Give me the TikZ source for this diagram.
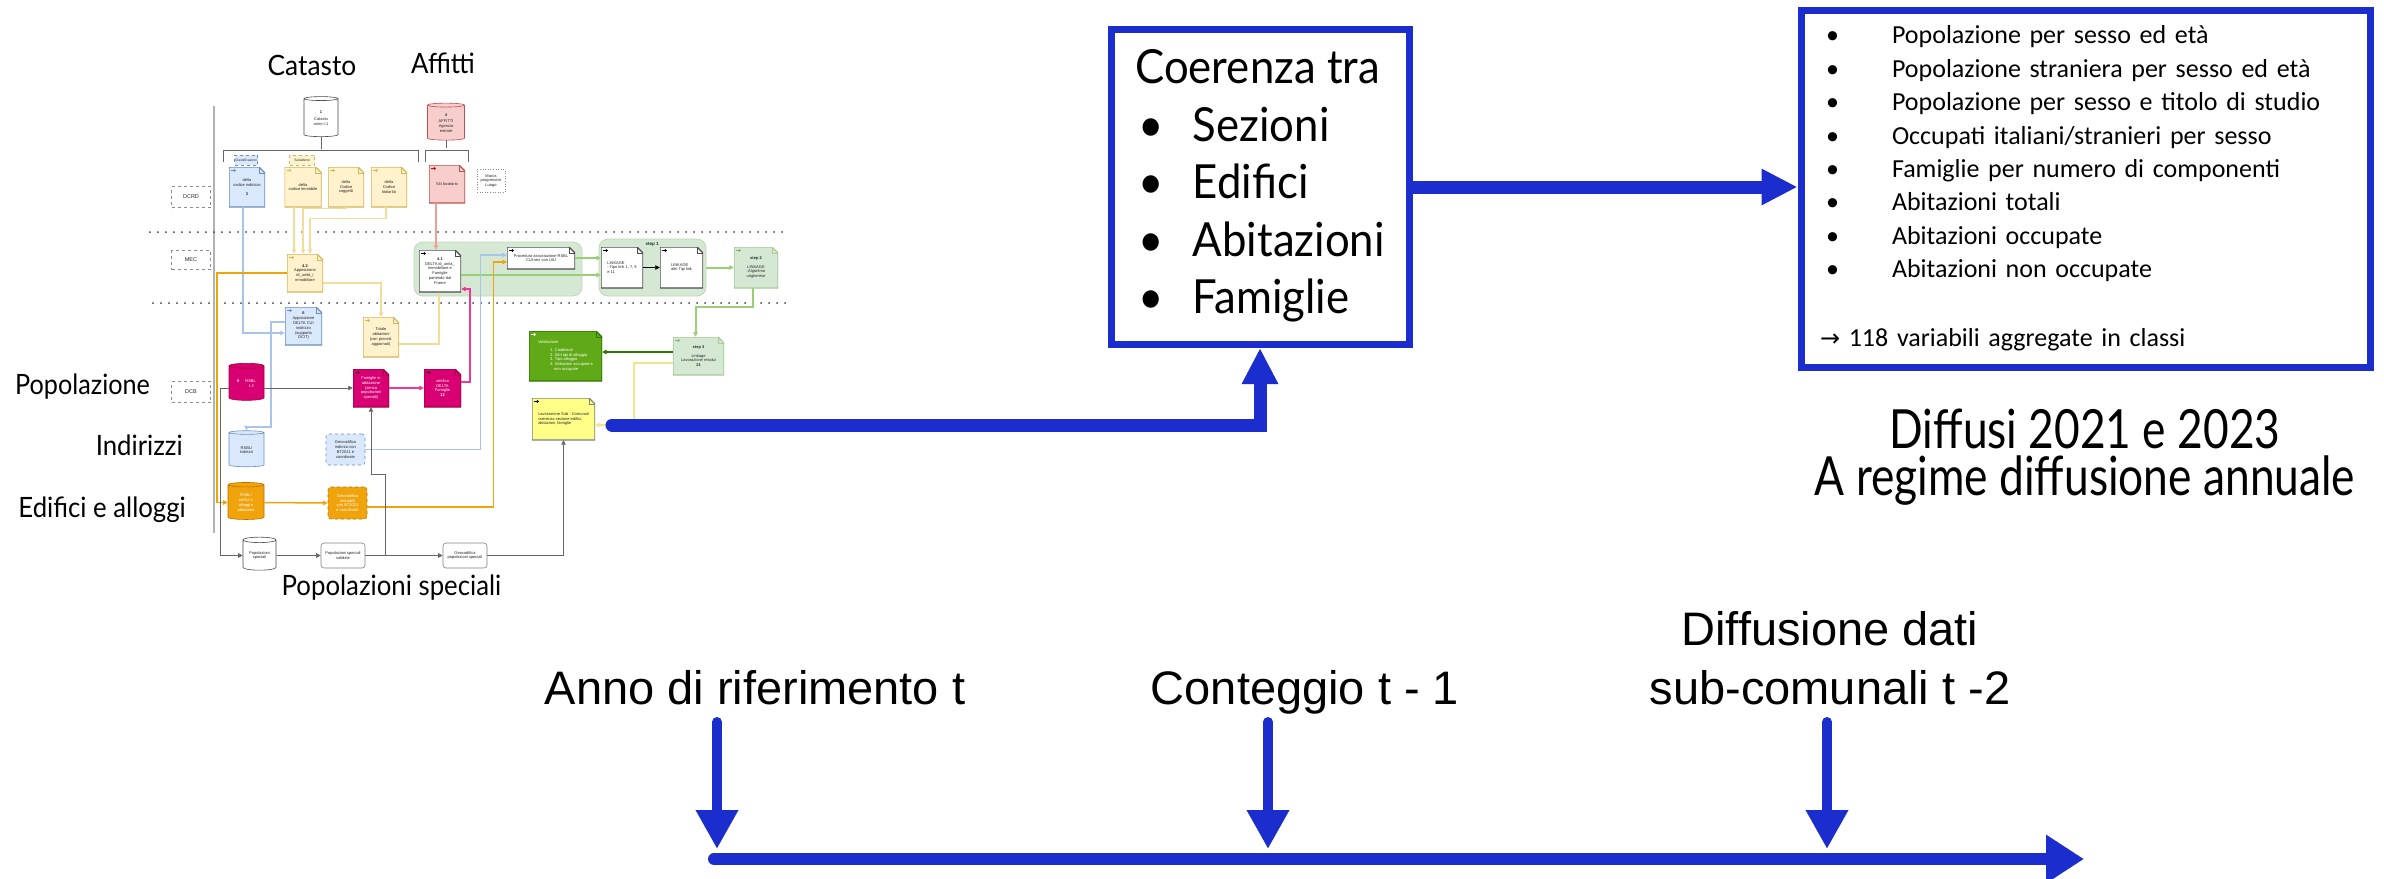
\documentclass[tikz,border=0pt]{standalone}
\usepackage{graphicx}
\usepackage{fontspec}
\setmainfont{Lato}
\newfontfamily\arialfont{Liberation Sans}
\newfontfamily\calibrifont{Carlito}
\newfontfamily\simboli{DejaVu Sans}
\usetikzlibrary{shapes.geometric,arrows.meta,calc}

\definecolor{bluISTAT}{RGB}{27,45,205}
\definecolor{azzF}{HTML}{DAE8FC}\definecolor{azzB}{HTML}{6C8EBF}\definecolor{azzL}{HTML}{A9C4EB}
\definecolor{giaF}{HTML}{FFF2CC}\definecolor{giaB}{HTML}{D6B656}\definecolor{giaL}{HTML}{F2DC9B}
\definecolor{rosF}{HTML}{F8CECC}\definecolor{rosB}{HTML}{B85450}\definecolor{rosL}{HTML}{F19C99}
\definecolor{verF}{HTML}{D5E8D4}\definecolor{verB}{HTML}{82B366}\definecolor{verL}{HTML}{97D077}
\definecolor{magF}{HTML}{D80073}\definecolor{magB}{HTML}{A50040}\definecolor{magL}{HTML}{F0389A}
\definecolor{araF}{HTML}{F0A30A}\definecolor{araB}{HTML}{BD7000}
\definecolor{vscF}{HTML}{60A917}\definecolor{vscB}{HTML}{2D7600}
\definecolor{gflF}{HTML}{FFFF88}\definecolor{gflL}{HTML}{EEE88A}

\begin{document}
\begin{tikzpicture}[x=1pt,y=-1pt,
  >={Triangle[length=4.5pt,width=4.5pt]},
  piccolo/.style={font=\arialfont\fontsize{4}{4.8}\selectfont, align=center, inner sep=0.5pt, text=black!85},
  misura/.style 2 args={minimum width=#1, minimum height=#2},
  foglio/.style n args={3}{piccolo, rectangle, path picture={
      \path[fill=#1, draw=#2, line width=1.2]
        (path picture bounding box.south west) -- (path picture bounding box.north west)
        -- ([xshift=-6pt]path picture bounding box.north east)
        -- ([yshift=-6pt]path picture bounding box.north east)
        -- (path picture bounding box.south east) -- cycle;
      \draw[#2, line width=0.6] ([xshift=-6pt]path picture bounding box.north east) |- ([yshift=-6pt]path picture bounding box.north east);
      \draw[#3, line width=1.1, -{Triangle[length=2.2pt,width=3.2pt]}] ([xshift=2pt,yshift=-3.5pt]path picture bounding box.north west) -- ++(5pt,0pt);
    }},
  db/.style 2 args={piccolo, cylinder, shape border rotate=90, aspect=0.25, fill=#1, draw=#2, line width=0.6},
  gbox/.style 2 args={piccolo, rectangle, rounded corners=3, fill=#1, draw=#2, line width=0.6},
  reparto/.style={piccolo, font=\arialfont\fontsize{5.5}{6}\selectfont, draw=black!45, dashed, line width=0.6, misura={39}{21}},
  regione/.style={rectangle, rounded corners=9, fill=verF, draw=verB!50, line width=0.8},
  puntini/.style={draw=black!75, line width=2, line cap=round, dash pattern=on 0pt off 8pt},
  ebl/.style={draw=azzL, line width=1.4}, eyl/.style={draw=giaL, line width=1.4},
  ero/.style={draw=rosL, line width=1.4}, eve/.style={draw=verL, line width=2},
  evs/.style={draw=vscB, line width=1.6}, emg/.style={draw=magL, line width=2.2},
  eor/.style={draw=araF, line width=1.5}, egr/.style={draw=black!60, line width=0.8},
  egf/.style={draw=gflL, line width=1.5},
  titolo/.style={font=\fontsize{28}{30}\selectfont, inner sep=0pt},
  riquadro/.style={rectangle, draw=bluISTAT, line width=7, fill=white, inner sep=0pt},
  bluofreccia/.style={draw=bluISTAT, line width=13, line cap=round, -{Triangle[length=36pt,width=34pt]}},
  tempo/.style={draw=bluISTAT, line width=10, line cap=round, -{Triangle[length=39pt,width=40pt]}},
  asse/.style={draw=bluISTAT, line width=12, line cap=round, -{Triangle[length=38pt,width=46pt]}},
  datum/.style={font=\arialfont\fontsize{47}{59}\selectfont, inner sep=0pt}
]
\fill[white] (0,0) rectangle (2384,878);
\useasboundingbox (0,0) rectangle (2384,878);

% schema dei flussi
\draw[black!30, line width=2] (214,106) -- (214,533);
\draw[puntini] (150,232) -- (785,232);
\draw[puntini] (153,303) -- (785,303);

\node[regione, misura={168}{54}] (reg1) at (498,269) {};
\node[regione, misura={107}{57}] (reg2) at (652.5,267.5) {};
\node[piccolo, font=\arialfont\bfseries\fontsize{4.5}{5}\selectfont] (step1) at (652,244) {step 1};

\node[db={white}{black!70}, misura={34}{40}] (cat) at (321,118) {\textbf{1}\\[3pt]Catasto\\anno t-1};
\node[db={rosF}{rosB}, misura={37}{37}] (aff) at (446,123) {\textbf{4}\\[2pt]AFFITTI\\Agenzia\\entrate};
\node[piccolo, font=\arialfont\fontsize{3.4}{4}\selectfont, fill=azzF, draw=azzB, dashed, line width=0.4, misura={23}{10}] (classi) at (246,160) {Classificazioni};
\node[piccolo, font=\arialfont\fontsize{3.4}{4}\selectfont, fill=giaF, draw=giaB, dashed, line width=0.4, misura={25}{10}] (subalt) at (302,160) {Subalterni};

\node[foglio={azzF}{azzB}{azzB}, misura={36}{40}] (dind) at (247,187) {delta\\codice indirizzo\\[4pt]\textbf{3}};
\node[foglio={giaF}{giaB}{giaB}, misura={37}{40}] (dimm) at (303,187) {delta\\codice immobile};
\node[foglio={giaF}{giaB}{giaB}, misura={36}{40}] (dsog) at (346,187) {delta\\Codice\\soggetti};
\node[foglio={giaF}{giaB}{giaB}, misura={36}{40}] (dtit) at (389,187) {delta\\Codice\\titolarità};
\node[foglio={rosF}{rosB}{red!80!black}, misura={36}{38}] (dloc) at (447,184) {Siti locatario};
\node[piccolo, draw=black!45, dotted, line width=0.6, fill=white, misura={28}{23}] (marca) at (491,181) {Marca\\progressivo\\Luogo};

\node[reparto] (dcrd) at (191,197) {DCRD};
\node[reparto, misura={39}{19}] (mec) at (191,260) {MEC};
\node[reparto] (dcb) at (191,392) {DCB};

\node[foglio={giaF}{giaB}{giaB}, misura={36}{38}] (d42) at (305,273) {\textbf{4.2}\\Apposizione\\id\_unità\_i\\mmobiliare};
\node[foglio={white}{black!70}{black}, misura={42}{42}] (d41) at (440,271) {\textbf{4.1}\\DELTA id\_unita\_\\immobiliare e\\Famiglie\\partendo dal\\Frame};
\node[foglio={white}{black!70}{black}, misura={68}{22}] (proc) at (541,258) {Procedura associazione RSBL\\CUI-sez con UIU};
\node[foglio={white}{black!70}{black}, misura={42}{41}, align=left] (lk1) at (622,267.5) {LINKAGE\\ - Tipo link 1, 7, 9\\e 11};
\node[foglio={white}{black!70}{black}, misura={43}{41}, align=left] (lk2) at (681.5,267.5) {LINKAGE\\ altri Tipi link};
\node[foglio={verF}{verB!70}{verB}, misura={44}{41}] (st2) at (756,267.5) {\textbf{step 2}\\[4pt]LINKAGE\\-Algoritmo\\ungherese};
\node[foglio={verF}{verB!70}{verB}, misura={51}{38}] (st3) at (698.5,356) {\textbf{step 3}\\[4pt]Linkage\\Lavorazione residui\\\textbf{21}};
\node[foglio={vscF}{vscB}{white}, misura={73}{50}, text=white, align=left] (val) at (565.5,356) {Validazione\\[3pt]\hspace*{12pt}1. Coabitanti\\\hspace*{12pt}2. Altri tipi di alloggio\\\hspace*{12pt}3. Tipo alloggio\\\hspace*{12pt}4. Abitazioni occupate e\\\hspace*{16pt}non occupate};
\node[foglio={gflF}{black!50}{black}, misura={63}{42}, align=left] (sub) at (563.5,419) {Lavorazione Sub - Comunali\\coerenza sezione edifici,\\abitazioni, famiglie};

\node[foglio={azzF}{azzB}{azzB}, misura={37}{38}] (d6) at (303.5,326) {\textbf{6}\\Apposizione\\DELTA CUI\\indirizzo\\(supporto\\DCIT)};
\node[foglio={giaF}{giaB}{giaB}, misura={36}{40}] (tot) at (381,337) {Totale\\abitazioni\\(con proced.\\aggiornati)};
\node[db={magF}{magB}, misura={35}{37}, text=white] (rsbl) at (246.5,383.5) {\textbf{5}\hspace{6pt}RSBL\\\hspace{10pt}t-2};
\node[foglio={magF}{magB}{magB!60!black}, misura={36}{38}, text=white] (fam) at (371,388) {Famiglie in\\abitazione\\(senza\\popolazioni\\speciali)};
\node[foglio={magF}{magB}{magB!60!black}, misura={37}{38}, text=white] (ver) at (442.5,388) {verifica\\DELTA\\Famiglie\\\textbf{12}};
\node[db={azzF}{azzB}, misura={35}{36}] (rind) at (246.5,450) {RSBL/\\indirizzi};
\node[gbox={azzF}{azzB}, dashed, misura={39}{31}] (gind) at (345.5,449.5) {Geocodifica\\indirizzi con\\BT2021 e\\coordinate};
\node[db={araF}{araB}, misura={36}{37}, text=white] (redf) at (246,502.5) {RSBL/\\edifici e\\alloggi e\\abitazioni};
\node[gbox={araF}{araB}, dashed, misura={39}{32}, text=white] (gimm) at (347.5,503) {Geocodifica\\immobili\\con BT2021\\e coordinate};
\node[db={white}{black!70}, misura={33}{33}] (rps) at (259.5,555.5) {Popolazioni\\speciali};
\node[gbox={white}{black!50}, misura={44}{25}] (psv) at (343,555.5) {Popolazioni speciali\\validate};
\node[gbox={white}{black!50}, misura={44}{25}] (gps) at (465,555.5) {Geocodifica\\popolazioni speciali};

% parentesi sotto le fonti
\draw[egr] (cat.south) -- ++(0,12);
\draw[egr] (223,162) |- (418,150) -- (418,162);
\draw[egr] (aff.south) -- ++(0,8);
\draw[egr] (425,162) |- (468,150) -- (468,162);

% collegamenti
\draw[ebl,->] ([xshift=-4pt]dind.south) |- ([yshift=-7pt]d6.west);
\draw[eyl,->] ([xshift=-9pt]dimm.south) -- ([xshift=-9pt]dimm.south |- d42.north);
\draw[eyl,->] (dsog.south) -- ++(0,1) -| ([xshift=-2pt]d42.north);
\draw[eyl,->] ([xshift=-3pt]dtit.south) -- ++(0,11) -| ([xshift=5pt]d42.north);
\draw[eyl,->] ([yshift=-10pt]d42.east) -| (tot.north);
\draw[eyl,->] ([yshift=-7pt]tot.east) -| ([xshift=-1pt]d41.south);
\draw[ero,->] ([xshift=-11pt]dloc.south) -- ([xshift=-11pt]dloc.south |- d41.north);
\draw[eve,->] ([yshift=-4pt]d41.east) -- ([yshift=-4pt]d41.east -| lk1.west);
\draw[eve,->] (proc.east) -- (proc.east -| lk1.west);
\draw[ebl,->] (gind.east) -- ++(115,0) |- ([yshift=3pt]proc.west);
\draw[ebl,->] ([yshift=4pt]d6.west) -- ++(-14,0) -- ++(0,105) -| (rind.north);
\draw[eor,->] (d42.west) -- ++(-70,0) |- (redf.west);
\draw[eor,->] (redf.east) -- (gimm.west);
\draw[eor,->] ([yshift=-4pt]gimm.east) -- ++(126,0) |- ([yshift=-4pt]proc.west);
\draw[egr,->] (rsbl.east |- fam.west) -- (fam.west);
\draw[egr,->] (rsbl.west |- fam.west) -- ++(-8,0) |- (rps.west);
\draw[egr,->] (rps.east) -- (psv.west);
\draw[egr,->] (psv.east) -- (gps.west);
\draw[egr,->] (psv.east) -- ++(20,0) -- ++(0,-81) -| (fam.south);
\draw[egr,->] (gps.east) -| (sub.south);
\draw[emg,->] (fam.east) -- (ver.west);
\draw[emg,->] ([yshift=6pt]ver.east) -- ++(9,0) |- ([yshift=-18pt]d41.east);
\draw[eve,->] (reg2.east) -- (st2.west);
\draw[black, line width=0.6,->] (lk1.east) -- (lk2.west);
\draw[eve,->] ([xshift=-3pt]st2.south) -- ++(0,19) -| ([xshift=-3pt]st3.north);
\draw[evs,->] ([yshift=4pt]st3.west) -- ([yshift=4pt]st3.west -| val.east);
\draw[egf,->] ([yshift=-7pt]st3.west) -- ++(-39,0) |- ([yshift=-6pt]sub.east);

% etichette grandi
\node[titolo, anchor=base] (lcat) at (312,75) {\scalebox{0.94}[1]{Catasto}};
\node[titolo, anchor=base] (laff) at (443,73) {\scalebox{0.92}[1]{Affitti}};
\node[titolo, anchor=base west] (lpop) at (15,394) {\scalebox{0.9}[1]{Popolazione}};
\node[titolo, anchor=base east] (lind) at (183,455) {\scalebox{0.92}[1]{Indirizzi}};
\node[titolo, anchor=base east] (ledi) at (186,517) {\scalebox{0.92}[1]{Edifici e alloggi}};
\node[titolo, anchor=base] (lps) at (391.5,595) {\scalebox{0.92}[1]{Popolazioni speciali}};

% riquadri blu
\node[riquadro, misura={298}{315}, font=\fontsize{47}{57.5}\selectfont] (coer) at (1260,187)
  {\scalebox{0.93}[1]{\begin{tabular}[t]{@{}l@{}}Coerenza tra\\
   \makebox[62pt][l]{\hspace{3pt}•}Sezioni\\
   \makebox[62pt][l]{\hspace{3pt}•}Edifici\\
   \makebox[62pt][l]{\hspace{3pt}•}Abitazioni\\
   \makebox[62pt][l]{\hspace{3pt}•}Famiglie\end{tabular}}};
\node[riquadro, misura={569}{357}, text width=531, align=left, font=\calibrifont\fontsize{26}{33.4}\selectfont] (lista) at (2085.5,188.5)
  {\makebox[72pt][l]{\hspace{6pt}•}Popolazione per sesso ed età\\
   \makebox[72pt][l]{\hspace{6pt}•}Popolazione straniera per sesso ed età\\
   \makebox[72pt][l]{\hspace{6pt}•}Popolazione per sesso e titolo di studio\\
   \makebox[72pt][l]{\hspace{6pt}•}Occupati italiani/stranieri per sesso\\
   \makebox[72pt][l]{\hspace{6pt}•}Famiglie per numero di componenti\\
   \makebox[72pt][l]{\hspace{6pt}•}Abitazioni totali\\
   \makebox[72pt][l]{\hspace{6pt}•}Abitazioni occupate\\
   \makebox[72pt][l]{\hspace{6pt}•}Abitazioni non occupate\\[35.6pt]
   {\simboli\fontsize{24}{30}\selectfont →} 118 variabili aggregate in classi};

\coordinate (avvio) at (612,425);
\draw[bluofreccia] (avvio) -| (coer.south);
\draw[bluofreccia] (coer.east) -- (coer.east -| lista.west);

\node[anchor=base, inner sep=0pt, font=\fontsize{54}{60}\selectfont] (ldf1) at (2085,448) {\scalebox{0.82}[1]{Diffusi 2021 e 2023}};
\node[anchor=base, inner sep=0pt, font=\fontsize{54}{60}\selectfont] (ldf2) at (2085,495) {\scalebox{0.82}[1]{A regime diffusione annuale}};

% linea del tempo
\node[datum, anchor=base] (lrif) at (755,704) {Anno di riferimento t};
\node[datum, anchor=base] (lcon) at (1305,704) {Conteggio t - 1};
\node[datum, anchor=base] (ldif) at (1830,645) {Diffusione dati};
\node[datum, anchor=base] (lsub) at (1830,704) {sub-comunali t -2};
\coordinate (a0) at (714,859);
\coordinate (a1) at (2084,859);
\draw[asse] (a0) -- (a1);
\coordinate (trif) at (717,722);
\coordinate (tcon) at (1268,722);
\coordinate (tdif) at (1827,722);
\draw[tempo] (trif) -- ++(0,127);
\draw[tempo] (tcon) -- ++(0,127);
\draw[tempo] (tdif) -- ++(0,127);
\end{tikzpicture}
\end{document}
